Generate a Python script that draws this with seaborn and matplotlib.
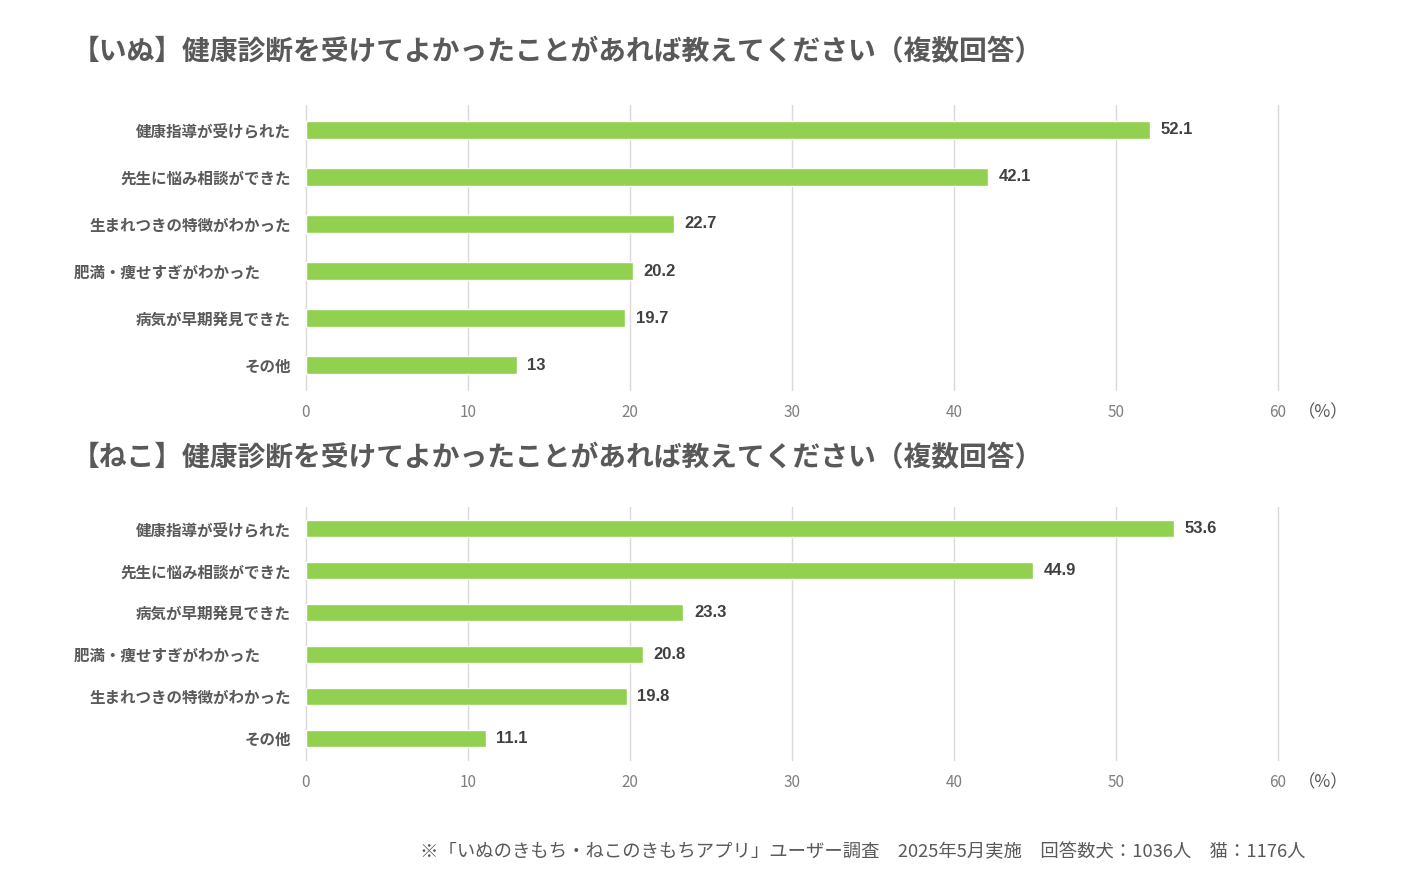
import matplotlib
matplotlib.use("Agg")
import matplotlib.pyplot as plt
import seaborn as sns
import pandas as pd

sns.set_theme(style="white")
plt.rcParams['font.family'] = ['Noto Sans CJK JP', 'DejaVu Sans']

dog_title = "【いぬ】健康診断を受けてよかったことがあれば教えてください（複数回答）"
dog_categories = ["健康指導が受けられた", "先生に悩み相談ができた", "生まれつきの特徴がわかった",
                  "肥満・痩せすぎがわかった　　", "病気が早期発見できた", "その他"]
dog_values = [52.1, 42.1, 22.7, 20.2, 19.7, 13]

cat_title = "【ねこ】健康診断を受けてよかったことがあれば教えてください（複数回答）"
cat_categories = ["健康指導が受けられた", "先生に悩み相談ができた", "病気が早期発見できた",
                  "肥満・痩せすぎがわかった　　", "生まれつきの特徴がわかった", "その他"]
cat_values = [53.6, 44.9, 23.3, 20.8, 19.8, 11.1]

x_ticks = [0, 10, 20, 30, 40, 50, 60]
unit_label = "（%）"
footnote = "※「いぬのきもち・ねこのきもちアプリ」ユーザー調査　2025年5月実施　回答数犬：1036人　猫：1176人"

GREEN = "#92d050"
GRAY = "#595959"
DARK = "#404040"
GRID = "#d9d9d9"

W, H = 1404, 886
fig = plt.figure(figsize=(W / 100, H / 100), dpi=100)
fig.patch.set_facecolor("white")


def draw(ax, cats, vals, bar_w):
    df = pd.DataFrame({"cat": cats, "val": vals})
    sns.barplot(data=df, x="val", y="cat", orient="h", color=GREEN, width=bar_w,
                saturation=1, ax=ax, errorbar=None)
    ax.set_xlim(0, 60)
    ax.set_ylim(5.52, -0.52)
    ax.set_xticks(x_ticks)
    ax.set_xticklabels([str(t) for t in x_ticks])
    ax.set_xlabel("")
    ax.set_ylabel("")
    for s in ax.spines.values():
        s.set_visible(False)
    ax.grid(axis="x", color=GRID, linewidth=1)
    for gl in ax.xaxis.get_gridlines():
        gl.set_clip_on(False)
    ax.set_axisbelow(True)
    ax.tick_params(axis="x", length=0, pad=10, labelsize=11, labelcolor="#7f7f7f")
    ax.tick_params(axis="y", length=0, pad=11, labelsize=11.2)
    for lab in ax.get_yticklabels():
        lab.set_color(GRAY)
        lab.set_fontweight("bold")
    for c in ax.containers:
        ax.bar_label(c, labels=[f"{v:g}" for v in vals], padding=7.5,
                     fontsize=12, fontweight="bold", color=DARK,
                     family=["Liberation Sans", "DejaVu Sans"])


ax1 = fig.add_axes([306 / W, 1 - 390 / H, 972 / W, 285 / H])
draw(ax1, dog_categories, dog_values, 0.38)
ax2 = fig.add_axes([306 / W, 1 - 760 / H, 972 / W, 253 / H])
draw(ax2, cat_categories, cat_values, 0.40)

fig.text(72 / W, 1 - 52 / H, dog_title, fontsize=20, fontweight="bold", color=GRAY,
         ha="left", va="center")
fig.text(72 / W, 1 - 458 / H, cat_title, fontsize=20, fontweight="bold", color=GRAY,
         ha="left", va="center")
fig.text(1298 / W, 1 - 412 / H, unit_label, fontsize=12.5, color=GRAY, ha="left", va="center")
fig.text(1298 / W, 1 - 782 / H, unit_label, fontsize=12.5, color=GRAY, ha="left", va="center")
fig.text(1306 / W, 1 - 852 / H, footnote, fontsize=13.2, color=GRAY, ha="right", va="center")

fig.savefig("out.png", dpi=100, facecolor="white")
